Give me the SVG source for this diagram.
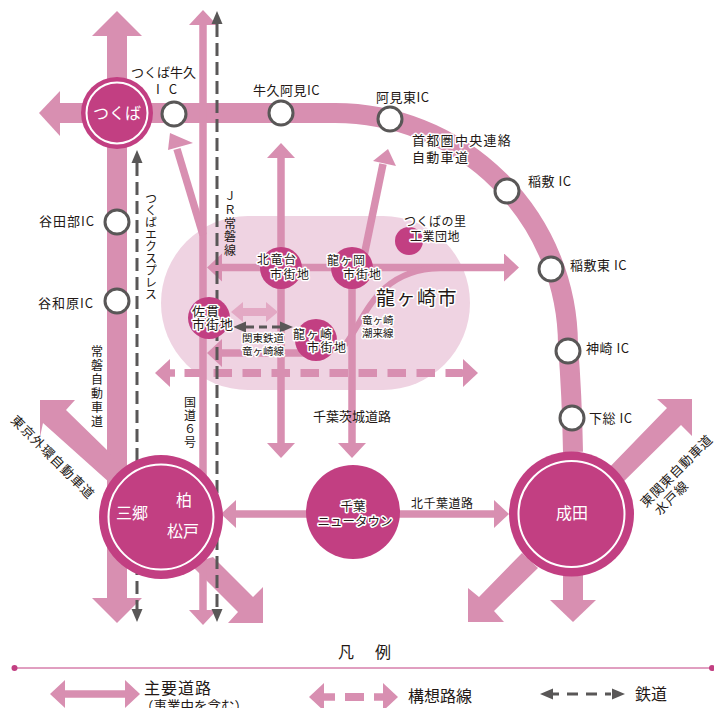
<svg xmlns="http://www.w3.org/2000/svg" width="714" height="708" viewBox="0 0 714 708">
<style>
text{font-family:"Noto Sans CJK JP","Noto Sans",sans-serif;fill:#231815;font-size:13px}
.h{stroke:#fff;stroke-width:3px;paint-order:stroke;stroke-linejoin:round}
.w{fill:#fff}
.c{text-anchor:middle}
.v{writing-mode:vertical-rl}
.thick{fill:none;stroke:#d88fb1;stroke-width:20}
.med{fill:none;stroke:#d88fb1;stroke-width:7.5}
.rail{fill:none;stroke:#595757;stroke-width:3;stroke-dasharray:13 6}
.plan{fill:none;stroke:#d88fb1;stroke-width:8;stroke-dasharray:18.5 10.5}
.fill{fill:#d88fb1}
.ic{fill:#fff;stroke:#595757;stroke-width:3}
.hub{fill:#c23f82}
.ring{fill:none;stroke:#fff;stroke-width:2}
</style>
<defs>
<marker id="hm" markerUnits="userSpaceOnUse" markerWidth="16" markerHeight="30" refX="0" refY="14" orient="auto-start-reverse"><path d="M0 0L15 14L0 28Z" fill="#d88fb1"/></marker>
<marker id="ht" markerUnits="userSpaceOnUse" markerWidth="26" markerHeight="50" refX="0" refY="25" orient="auto-start-reverse"><path d="M0 0L25 25L0 50Z" fill="#d88fb1"/></marker>
<marker id="hr" markerUnits="userSpaceOnUse" markerWidth="14" markerHeight="12" refX="0" refY="6" orient="auto-start-reverse"><path d="M0 0.500L13 6L0 11.500Z" fill="#595757"/></marker>
<marker id="hl" markerUnits="userSpaceOnUse" markerWidth="14" markerHeight="22" refX="0" refY="11" orient="auto-start-reverse"><path d="M0 1L12 11L0 21Z" fill="#e3a9c4"/></marker>
</defs>
<rect x="161" y="216" width="309" height="174" rx="87" fill="#efd3e2"/>
<g id="connectors">
<path class="thick" d="M117 36V598" marker-start="url(#ht)" marker-end="url(#ht)"/>
<path class="thick" d="M117 113H60"/>
<path class="fill" d="M39 113L60 91V136Z"/>
<path class="thick" d="M117 113H335A233 233 0 0 1 568 345C570 370 572 395 573 452"/>
<path class="thick" d="M573 560V600"/>
<path class="fill" d="M550 600H596L573 622Z"/>
<path class="fill" d="M40 400H75L66 410L107 450L130 480L110 483L43 423L40 437Z"/>
<path class="fill" d="M263 623H228L238 612L190 564L213 557L253 597L263 587Z"/>
<path class="fill" d="M692 399H657L667 408L602 475L615 490L681 425L692 436Z"/>
<path class="fill" d="M468 622V588L479 597L522 553L538 568L494 611L504 622Z"/>
<path class="med" d="M203 25V610" marker-start="url(#hm)" marker-end="url(#hm)"/>
<path class="med" d="M177 149L203 235"/>
<path class="fill" d="M170 133L193 143L168 150Z"/>
<path class="med" d="M281 158V443" marker-start="url(#hm)" marker-end="url(#hm)"/>
<path class="med" d="M352 268V443" marker-end="url(#hm)"/>
<path class="med" d="M364 256L383 164"/>
<path class="fill" d="M388 149L373 161L396 166Z"/>
<path class="med" d="M222 267.500H504" marker-start="url(#hm)" marker-end="url(#hm)"/>
<path class="med" d="M222 353H316" marker-start="url(#hm)"/>
<path class="med" d="M345 345C365 320 375 270 440 268" style="stroke-width:6"/>
<path d="M243 312H266" fill="none" stroke="#e3a9c4" stroke-width="8" marker-start="url(#hl)" marker-end="url(#hl)"/>
<path class="plan" d="M184.500 373H462"/>
<path class="med" d="M170 373H175" marker-start="url(#hm)"/>
<path class="med" d="M462 373H463" marker-end="url(#hm)"/>
<path class="med" d="M236 514H310" marker-start="url(#hm)"/>
<path class="med" d="M395 514H494" marker-end="url(#hm)"/>
<path class="rail" d="M217 24V609" marker-start="url(#hr)" marker-end="url(#hr)"/>
<path class="rail" d="M137 163V609" marker-start="url(#hr)" marker-end="url(#hr)"/>
<path class="rail" d="M246 327H280" style="stroke-dasharray:8 5" marker-start="url(#hr)" marker-end="url(#hr)"/>
</g>
<g id="tsukuba"><circle class="hub" cx="117" cy="113" r="36"/><circle class="ring" cx="117" cy="113" r="30.500"/><text class="w c" x="117" y="119" style="font-size:16px">つくば</text></g>
<g id="misato"><circle class="hub" cx="161" cy="517" r="62"/><circle class="ring" cx="161" cy="517" r="52.500"/><text class="w c" x="132" y="519" style="font-size:16px">三郷</text><text class="w c" x="184" y="506" style="font-size:16px">柏</text><text class="w c" x="183" y="537" style="font-size:16px">松戸</text></g>
<g id="narita"><circle class="hub" cx="571.500" cy="514" r="62.500"/><circle class="ring" cx="571.500" cy="514" r="53"/><text class="w c" x="572" y="519" style="font-size:16px">成田</text></g>
<g id="chiba-newtown"><circle class="hub" cx="353" cy="512" r="47"/><text class="h c" x="353" y="511" style="font-size:12.500px">千葉</text><text class="h c" x="355" y="526" style="font-size:12.500px">ニュータウン</text></g>
<g id="kitaryugasaki"><circle class="hub" cx="281" cy="268" r="21"/><text class="h" x="257" y="264" style="font-size:12px;letter-spacing:1.500px">北竜台</text><text class="h" x="270" y="279" style="font-size:12px;letter-spacing:1.500px">市街地</text></g>
<g id="ryugaoka"><circle class="hub" cx="352" cy="268" r="21"/><text class="h" x="327" y="265" style="font-size:12px;letter-spacing:1px">龍ヶ岡</text><text class="h" x="343" y="279" style="font-size:12px;letter-spacing:1px">市街地</text></g>
<g id="sanuki"><circle class="hub" cx="209" cy="318" r="21"/><text class="h" x="192" y="316" style="font-size:13px;letter-spacing:1px">佐貫</text><text class="h" x="192" y="329" style="font-size:13px;letter-spacing:1px">市街地</text></g>
<g id="ryugasaki"><circle class="hub" cx="316" cy="340" r="21"/><text class="h" x="293" y="339" style="font-size:12px;letter-spacing:1.500px">龍ヶ崎</text><text class="h" x="307" y="352" style="font-size:12px;letter-spacing:1.500px">市街地</text></g>
<g id="tsukubanosato"><circle class="hub" cx="409" cy="241" r="14"/><text class="h" x="404" y="226" style="font-size:12px;letter-spacing:.500px">つくばの里</text><text class="h" x="410" y="241" style="font-size:12px;letter-spacing:.500px">工業団地</text></g>
<g id="ic-tsukubaushiku"><circle class="ic" cx="174" cy="114" r="12"/><text x="131" y="77" style="font-size:13px">つくば牛久</text><text x="156" y="94" style="font-size:13px;letter-spacing:3px">I C</text></g>
<g id="ic-ushikuami"><circle class="ic" cx="281" cy="113" r="12"/><text x="253" y="95" style="font-size:13px;letter-spacing:.500px">牛久阿見IC</text></g>
<g id="ic-amihigashi"><circle class="ic" cx="390" cy="119" r="12"/><text x="376" y="102" style="font-size:13px;letter-spacing:.500px">阿見東IC</text></g>
<g id="ic-inashiki"><circle class="ic" cx="507" cy="191" r="12"/><text x="528" y="186" style="font-size:13px;letter-spacing:.500px">稲敷 IC</text></g>
<g id="ic-inashikihigashi"><circle class="ic" cx="551" cy="269" r="12"/><text x="570" y="270" style="font-size:13px;letter-spacing:.500px">稲敷東 IC</text></g>
<g id="ic-kozaki"><circle class="ic" cx="568" cy="351" r="12"/><text x="586" y="353" style="font-size:13px;letter-spacing:.500px">神崎 IC</text></g>
<g id="ic-shimofusa"><circle class="ic" cx="572" cy="418" r="12"/><text x="589" y="423" style="font-size:13px;letter-spacing:.500px">下総 IC</text></g>
<g id="ic-yatabe"><circle class="ic" cx="117" cy="222" r="12"/><text x="39" y="226" style="font-size:13px;letter-spacing:1px">谷田部IC</text></g>
<g id="ic-yawara"><circle class="ic" cx="117" cy="301" r="12"/><text x="38" y="308" style="font-size:13px;letter-spacing:1px">谷和原IC</text></g>
<g id="labels">
<text class="h" x="412" y="145" style="font-size:13px;letter-spacing:1.300px">首都圏中央連絡</text>
<text class="h" x="412" y="162" style="font-size:13px;letter-spacing:1.300px">自動車道</text>
<text class="h" x="376" y="305" style="font-size:19px;letter-spacing:1.500px">龍ヶ崎市</text>
<text class="h" x="362" y="324" style="font-size:10.500px">竜ヶ崎</text>
<text class="h" x="362" y="337" style="font-size:10.500px">潮来線</text>
<text class="h" x="242" y="342" style="font-size:10.500px">関東鉄道</text>
<text class="h" x="242" y="355" style="font-size:10.500px">竜ヶ崎線</text>
<text x="313" y="421" style="font-size:13px">千葉茨城道路</text>
<text x="411" y="508" style="font-size:12px;letter-spacing:.500px">北千葉道路</text>
<text class="v h" x="97" y="345" style="font-size:12px;letter-spacing:2px">常磐自動車道</text>
<text class="v" x="151" y="192" style="font-size:12px">つくばエクスプレス</text>
<text class="v" x="230" y="190" style="font-size:12px;letter-spacing:1.500px">ＪＲ常磐線</text>
<text class="v" x="190" y="396" style="font-size:12px;letter-spacing:1.500px">国道６号</text>
<text transform="translate(10 421) rotate(45)" style="font-size:13px;letter-spacing:1px">東京外環自動車道</text>
<text transform="translate(646 508) rotate(-45)" style="font-size:13px;letter-spacing:.700px">東関東自動車道</text>
<text transform="translate(660 516) rotate(-45)" style="font-size:13px;letter-spacing:1px">水戸線</text>
</g>
<g id="legend">
<text x="338" y="658" style="font-size:16px">凡</text><text x="375" y="658" style="font-size:16px">例</text>
<path d="M14 668H714" stroke="#c23f82" stroke-width="1"/>
<circle class="hub" cx="14.500" cy="668" r="3"/><circle class="hub" cx="712" cy="668" r="3"/>
<path class="med" d="M65 694H125" marker-start="url(#hm)" marker-end="url(#hm)"/>
<text x="144" y="694" style="font-size:16px;letter-spacing:1px">主要道路</text>
<text x="140" y="711" style="font-size:13.500px">（事業中を含む）</text>
<path class="plan" d="M345 697H364" style="stroke-dasharray:none"/>
<path class="med" d="M324 697H335" marker-start="url(#hm)"/>
<path class="med" d="M374 697H383" marker-end="url(#hm)"/>
<text x="408" y="702" style="font-size:16px">構想路線</text>
<path class="rail" d="M553 694H612" style="stroke-dasharray:6 8 11 8 11 8" marker-start="url(#hr)" marker-end="url(#hr)"/>
<text x="635" y="700" style="font-size:16px">鉄道</text>
</g>
</svg>
